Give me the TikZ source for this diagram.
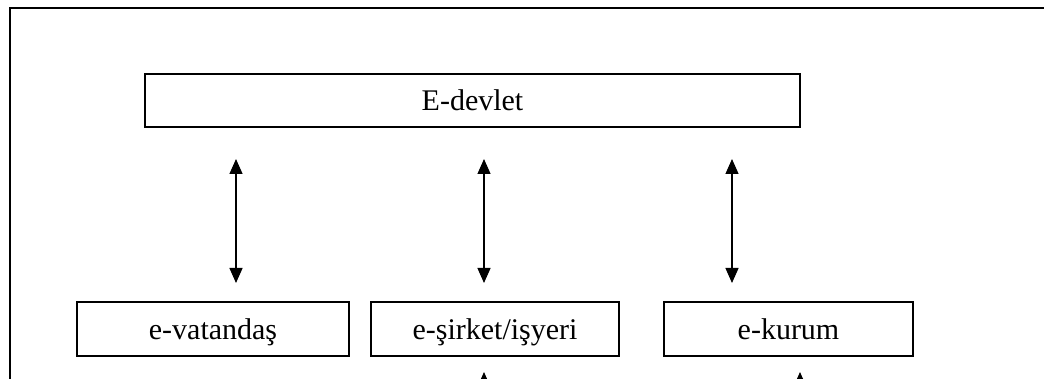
\documentclass[tikz,border=0pt]{standalone}
\usepackage{fontspec}
\setmainfont{Liberation Serif}
\usetikzlibrary{arrows.meta}
\begin{document}
\begin{tikzpicture}[x=1pt,y=-1pt,
  box/.style={draw,line width=1.3pt,inner sep=0pt,minimum height=54pt,
    text height=26pt,text depth=5pt,
    font=\fontsize{30}{36}\selectfont},
  tip/.tip={Triangle[length=15pt,width=13pt]},
  link/.style={line width=1.3pt,{tip}-{tip}},
  uplink/.style={line width=1.3pt,-{tip}},
  frame/.style={line width=1.3pt}]
\useasboundingbox (0,0) rectangle (1044,379);
\clip (0,0) rectangle (1044,379);

% outer frame, running past the page on the right and below
\coordinate (fr) at (1070,8);
\coordinate (fc) at (10,8);
\coordinate (fb) at (10,400);
\draw[frame] (fr) -- (fc) -- (fb);

% boxes
\node[box,minimum width=655pt,minimum height=53pt] (devlet) at (472.5,100.5) {E-devlet};
\node[box,minimum width=272pt] (vatandas) at (213,329) {e-vatandaş};
\node[box,minimum width=248pt] (sirket) at (495,329) {e-şirket/işyeri};
\node[box,minimum width=249pt] (kurum) at (788.5,329) {e-kurum};

% two-way links between the levels
\coordinate (a1) at (236,159); \coordinate (b1) at (236,283);
\coordinate (a2) at (484,159); \coordinate (b2) at (484,283);
\coordinate (a3) at (732,159); \coordinate (b3) at (732,283);
\draw[link] (a1) -- (b1);
\draw[link] (a2) -- (b2);
\draw[link] (a3) -- (b3);

% arrows rising from below
\coordinate (u1) at (484,372); \coordinate (d1) at (484,400);
\coordinate (u2) at (800,372); \coordinate (d2) at (800,400);
\draw[uplink] (d1) -- (u1);
\draw[uplink] (d2) -- (u2);
\end{tikzpicture}
\end{document}
